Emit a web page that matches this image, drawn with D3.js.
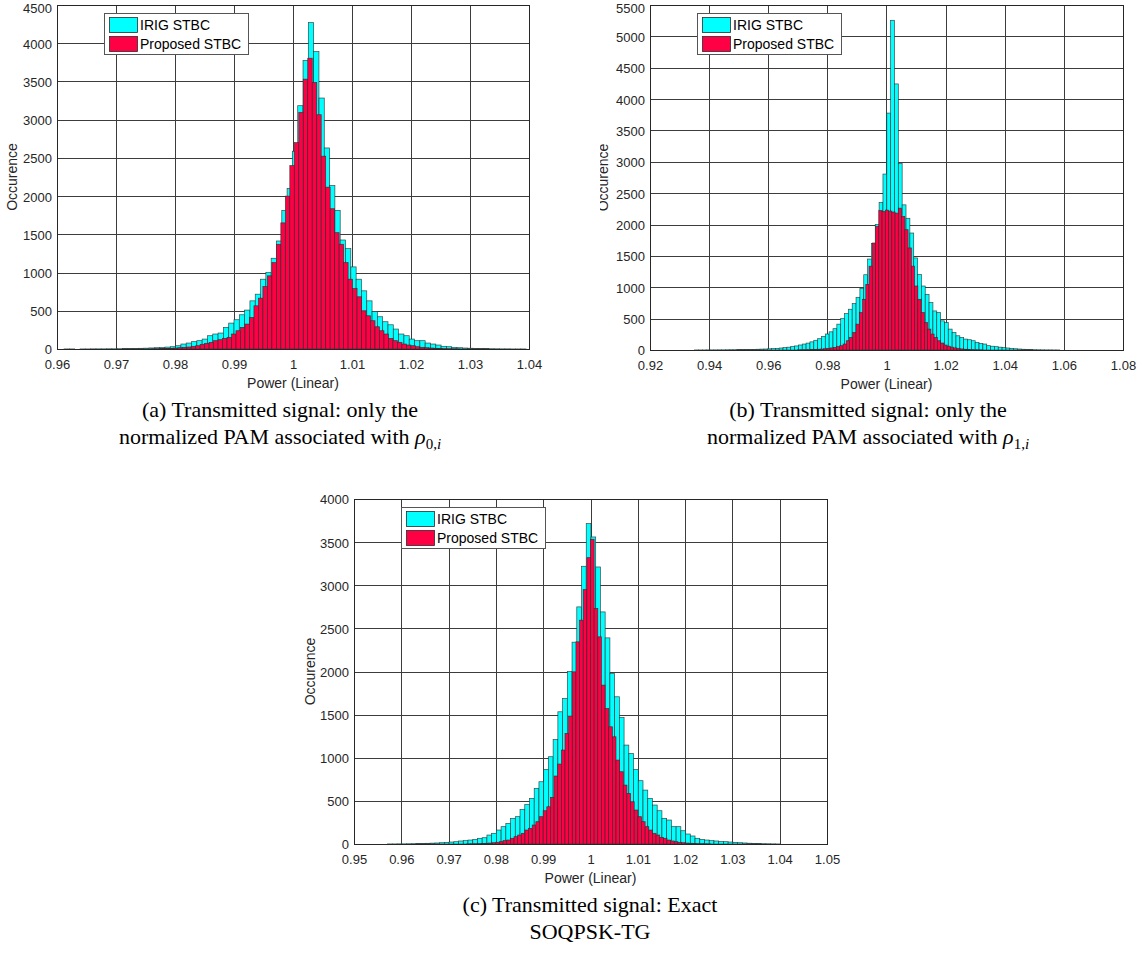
<!DOCTYPE html>
<html>
<head>
<meta charset="utf-8">
<script src="https://cdn.jsdelivr.net/npm/d3@7"></script>
<style>
  html, body { margin: 0; padding: 0; background: #fff; }
  svg { display: block; }
</style>
</head>
<body>
<script>
// ---------------- DATA ----------------
const seriesNames = ["IRIG STBC", "Proposed STBC"];
const yLabel = "Occurence";
const xLabel = "Power (Linear)";

// Chart (a)
const aXTicks = [0.96, 0.97, 0.98, 0.99, 1.00, 1.01, 1.02, 1.03, 1.04];
const aYTicks = [0, 500, 1000, 1500, 2000, 2500, 3000, 3500, 4000, 4500];
const aIrigStart = 0.9612, aIrigWidth = 0.0009;
const aIrigCounts = [1,1,0,1,1,2,2,2,3,3,4,5,6,7,9,11,14,17,
  20,25,30,43,65,78,96,109,130,174,196,209,283,339,383,448,509,630,717,913,1000,1187,1413,1813,2100,2587,3183,3774,
  4270,
  3891,3283,2630,2139,1813,1426,1313,1074,913,761,630,491,422,357,317,261,196,174,130,109,109,78,65,52,35,30,22,17,13,10,
  8,6,5,4,3,2,2,1,1,1];
const aPropStart = 0.9759, aPropWidth = 0.00076;
const aPropCounts = [2,3,5,8,9,13,17,22,26,35,43,61,74,87,109,122,139,152,196,239,283,326,413,565,665,817,957,1130,1370,1650,2000,2400,2700,3096,3530,
  3804,
  3487,3065,2522,2117,1835,1522,1370,1130,913,791,683,500,435,370,291,239,196,139,109,87,65,52,43,30,22,17,13,9,6,4,3,2,1];

// Chart (b)
const bXTicks = [0.92, 0.94, 0.96, 0.98, 1.00, 1.02, 1.04, 1.06, 1.08];
const bYTicks = [0, 500, 1000, 1500, 2000, 2500, 3000, 3500, 4000, 4500, 5000, 5500];
const bIrigStart = 0.9351, bIrigWidth = 0.0013;
const bIrigCounts = [1,1,1,2,2,2,3,3,4,5,5,6,7,8,9,10,12,14,
  16,19,22,26,32,38,45,55,65,80,
  95,110,130,155,180,215,255,290,340,412,
  500,580,650,740,840,980,
  1200,1450,1700,2000,2350,2805,3777,
  5256,
  4242,2974,2314,2100,1865,1468,1204,1020,887,755,623,597,465,438,333,280,227,200,174,164,148,121,106,95,69,60,53,45,38,32,26,20,16,12,9,7,5,4,3,2,2,1,1];
const bPropStart = 0.9699, bPropWidth = 0.0011;
const bPropCounts = [2,3,4,5,7,9,12,15,20,26,33,42,55,69,95,148,200,280,412,597,808,1046,1336,1706,1970,
  2224,2208,2230,2215,2200,2182,2261,2129,
  1918,1627,1336,1020,808,597,438,333,254,200,148,111,79,60,45,33,24,17,12,8,5,3,2,1];

// Chart (c)
const cXTicks = [0.95, 0.96, 0.97, 0.98, 0.99, 1.00, 1.01, 1.02, 1.03, 1.04, 1.05];
const cYTicks = [0, 500, 1000, 1500, 2000, 2500, 3000, 3500, 4000];
const cIrigStart = 0.9571, cIrigWidth = 0.001;
const cIrigCounts = [1,1,2,2,3,4,5,6,8,10,12,15,19,23,27,35,39,46,54,66,73,104,124,162,201,239,297,317,402,459,529,645,722,865,1012,1212,1533,1687,2000,2340,2749,3220,
  3715,
  3560,3212,2691,2390,1977,1707,1467,1147,1050,865,734,625,529,452,386,297,278,201,201,154,116,93,66,54,46,39,35,31,27,23,19,15,12,9,7,5,4,3,2,1];
const cPropStart = 0.97382, cPropWidth = 0.00077;
const cPropCounts = [1,2,3,4,6,8,11,15,20,27,39,46,66,85,104,124,162,181,220,259,317,386,432,541,788,927,1089,1282,1483,1996,2344,2595,2950,3320,
  3533,
  2730,2402,1842,1571,1359,1243,973,838,683,587,490,394,317,259,201,162,124,104,77,66,46,35,27,19,15,11,8,6,4,3,2,1];

const captionA = ["(a) Transmitted signal: only the", "normalized PAM associated with "];
const captionB = ["(b) Transmitted signal: only the", "normalized PAM associated with "];
const captionC = ["(c) Transmitted signal: Exact", "SOQPSK-TG"];

// ---------------- DRAWING ----------------
const W = 1143, H = 967;
const colors = ["#00FFFF", "#FF0044"];
const svg = d3.select("body").append("svg").attr("width", W).attr("height", H)
  .style("font-family", "'Liberation Sans', Arial, sans-serif");
svg.append("rect").attr("width", W).attr("height", H).attr("fill", "#fff");

function drawChart(cfg) {
  const g = svg.append("g");
  if (cfg.clipLeft !== undefined) {
    const id = "clip" + cfg.id;
    svg.append("defs").append("clipPath").attr("id", id)
      .append("rect").attr("x", cfg.clipLeft).attr("y", 0).attr("width", W).attr("height", H);
    g.attr("clip-path", `url(#${id})`);
  }
  const x = d3.scaleLinear().domain([cfg.xTicks[0], cfg.xTicks[cfg.xTicks.length - 1]]).range([cfg.left, cfg.right]);
  const y = d3.scaleLinear().domain([0, cfg.yTicks[cfg.yTicks.length - 1]]).range([cfg.bottom, cfg.top]);

  // grid
  const grid = g.append("g").attr("stroke", "#3c3c3c").attr("stroke-width", 1);
  grid.selectAll(".vx").data(cfg.xTicks.slice(1, -1)).join("line")
    .attr("x1", d => Math.round(x(d)) + 0.5).attr("x2", d => Math.round(x(d)) + 0.5)
    .attr("y1", cfg.top).attr("y2", cfg.bottom);
  grid.selectAll(".hy").data(cfg.yTicks.slice(1, -1)).join("line")
    .attr("y1", d => Math.round(y(d)) + 0.5).attr("y2", d => Math.round(y(d)) + 0.5)
    .attr("x1", cfg.left).attr("x2", cfg.right);

  // bars
  cfg.series.forEach((s, si) => {
    const bins = s.counts.map((c, i) => ({ x0: s.start + i * s.width, x1: s.start + (i + 1) * s.width, c }))
      .filter(b => b.c > 0);
    g.append("g").selectAll("rect").data(bins).join("rect")
      .attr("x", b => x(b.x0)).attr("width", b => x(b.x1) - x(b.x0))
      .attr("y", b => y(b.c)).attr("height", b => y(0) - y(b.c))
      .attr("fill", colors[si]).attr("stroke", "#2b2b2b").attr("stroke-width", 0.7).attr("stroke-opacity", 0.85);
  });

  // axes box
  g.append("rect").attr("x", cfg.left + 0.5).attr("y", cfg.top + 0.5)
    .attr("width", cfg.right - cfg.left).attr("height", cfg.bottom - cfg.top)
    .attr("fill", "none").attr("stroke", "#262626").attr("stroke-width", 1);

  // tick labels
  const xAxis = d3.axisBottom(x).tickValues(cfg.xTicks).tickSize(0).tickPadding(11)
    .tickFormat(d => String(+d.toFixed(2)));
  const xa = g.append("g").attr("transform", `translate(0,${cfg.bottom})`).call(xAxis);
  xa.select(".domain").remove();
  xa.selectAll("text").attr("font-size", 13).attr("fill", "#262626").attr("font-family", "'Liberation Sans', Arial, sans-serif");
  const yMax = cfg.yTicks[cfg.yTicks.length - 1];
  const yAxis = d3.axisLeft(y).tickValues(cfg.yTicks).tickSize(0).tickPadding(5).tickFormat(d => String(d));
  const ya = g.append("g").attr("transform", `translate(${cfg.left},0)`).call(yAxis);
  ya.select(".domain").remove();
  ya.selectAll("text").attr("font-size", 13).attr("dy", d => d === yMax && cfg.top < 10 ? "0.56em" : "0.38em")
    .attr("fill", "#262626").attr("font-family", "'Liberation Sans', Arial, sans-serif");

  // axis labels
  g.append("text").attr("x", (cfg.left + cfg.right) / 2).attr("y", cfg.bottom + 39)
    .attr("text-anchor", "middle").attr("font-size", 14).attr("fill", "#262626").text(xLabel);
  g.append("text").attr("transform", `translate(${cfg.yLabelX},${(cfg.top + cfg.bottom) / 2}) rotate(-90)`)
    .attr("text-anchor", "middle").attr("dy", "0.35em").attr("font-size", 14).attr("fill", "#262626").text(yLabel);

  // legend
  const lx = cfg.left + 47, ly = cfg.top + 8;
  const leg = g.append("g");
  leg.append("rect").attr("x", lx + 0.5).attr("y", ly + 0.5).attr("width", 144).attr("height", 41)
    .attr("fill", "#fff").attr("stroke", "#555").attr("stroke-width", 1);
  seriesNames.forEach((n, i) => {
    leg.append("rect").attr("x", lx + 5.5).attr("y", ly + 4.5 + i * 19).attr("width", 28).attr("height", 15)
      .attr("fill", colors[i]).attr("stroke", "#2b2b2b").attr("stroke-width", 0.8);
    leg.append("text").attr("x", lx + 36).attr("y", ly + 17 + i * 19).attr("font-size", 14).attr("fill", "#000").text(n);
  });

  // caption
  const cap = svg.append("g").attr("font-family", "'Liberation Serif', 'DejaVu Serif', serif").attr("font-size", 22).attr("fill", "#000")
    .attr("text-anchor", "middle");
  cap.append("text").attr("x", cfg.capX).attr("y", cfg.capY).text(cfg.caption[0]);
  const t2 = cap.append("text").attr("x", cfg.capX).attr("y", cfg.capY + 27).text(cfg.caption[1]);
  if (cfg.rho !== undefined) {
    t2.append("tspan").attr("font-style", "italic").text("ρ");
    t2.append("tspan").attr("font-size", 15).attr("dy", 5).text(cfg.rho + ",");
    t2.append("tspan").attr("font-size", 15).attr("font-style", "italic").text("i");
  }
}

drawChart({ id: "a", left: 57, right: 529, top: 5, bottom: 349, xTicks: aXTicks, yTicks: aYTicks,
  series: [{ start: aIrigStart, width: aIrigWidth, counts: aIrigCounts }, { start: aPropStart, width: aPropWidth, counts: aPropCounts }],
  yLabelX: 12, capX: 280, capY: 417, caption: captionA, rho: "0" });
drawChart({ id: "b", left: 650, right: 1123, top: 5, bottom: 350, xTicks: bXTicks, yTicks: bYTicks,
  series: [{ start: bIrigStart, width: bIrigWidth, counts: bIrigCounts }, { start: bPropStart, width: bPropWidth, counts: bPropCounts }],
  yLabelX: 603.5, clipLeft: 600, capX: 868, capY: 417, caption: captionB, rho: "1" });
drawChart({ id: "c", left: 354, right: 827, top: 499, bottom: 844, xTicks: cXTicks, yTicks: cYTicks,
  series: [{ start: cIrigStart, width: cIrigWidth, counts: cIrigCounts }, { start: cPropStart, width: cPropWidth, counts: cPropCounts }],
  yLabelX: 310, capX: 590, capY: 912, caption: captionC });
</script>
</body>
</html>
